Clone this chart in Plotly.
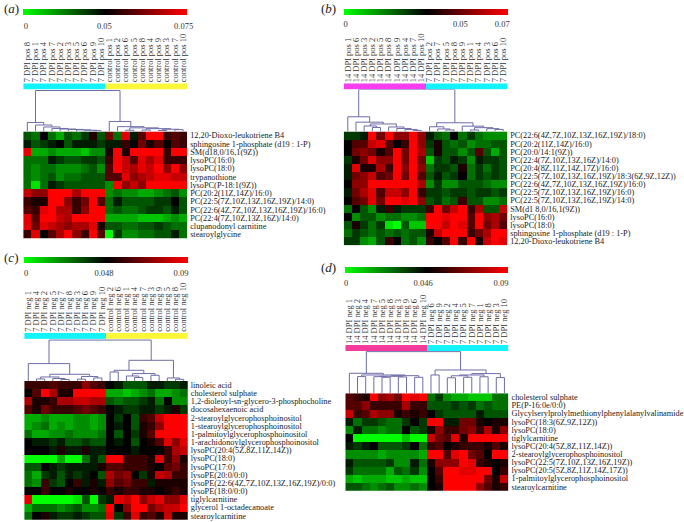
import plotly.graph_objects as go

W, H = 684, 522
SERIF = "Liberation Serif"

# ---- sample labels
SAMPLES_A = ["7 DPI pos " + s for s in "8 1 4 7 2 3 5 6 9 10".split()] + ["control pos " + s for s in "1 2 6 5 8 4 9 3 7 10".split()]
SAMPLES_B = ["14 DPI pos " + s for s in "1 6 3 2 5 8 9 4 7 10".split()] + ["7 DPI pos " + s for s in "2 7 5 8 9 1 4 3 6 10".split()]
SAMPLES_C = ["7 DPI neg " + s for s in "1 4 2 5 7 8 3 6 9 10".split()] + ["control neg " + s for s in "2 6 1 4 7 3 9 5 8 10".split()]
SAMPLES_D = ["14 DPI neg " + s for s in "1 2 4 7 5 8 3 9 6 10".split()] + ["7 DPI neg " + s for s in "6 9 2 4 5 7 1 8 3 10".split()]

# ---- metabolites
ROWS_A = ["12,20-Dioxo-leukotriene B4", "sphingosine 1-phosphate (d19 : 1-P)", "SM(d18,0/16,1(9Z))", "lysoPC(16:0)",
          "lysoPC(18:0)", "trypanothione", "lysoPC(P-18:1(9Z))", "PC(20:2(11Z,14Z)/16:0)",
          "PC(22:5(7Z,10Z,13Z,16Z,19Z)/14:0)", "PC(22:6(4Z,7Z,10Z,13Z,16Z,19Z)/16:0)", "PC(22:4(7Z,10Z,13Z,16Z)/14:0)",
          "clupanodonyl carnitine", "stearoylglycine"]
ROWS_B = ["PC(22:6(4Z,7Z,10Z,13Z,16Z,19Z)/18:0)", "PC(20:2(11Z,14Z)/16:0)", "PC(20:0/14:1(9Z))", "PC(22:4(7Z,10Z,13Z,16Z)/14:0)",
          "PC(20:4(8Z,11Z,14Z,17Z)/16:0)", "PC(22:5(7Z,10Z,13Z,16Z,19Z)/18:3(6Z,9Z,12Z))", "PC(22:6(4Z,7Z,10Z,13Z,16Z,19Z)/16:0)",
          "PC(22:5(7Z,10Z,13Z,16Z,19Z)/16:0)", "PC(22:5(7Z,10Z,13Z,16Z,19Z)/14:0)", "SM(d1 8,0/16,1(9Z))", "lysoPC(16:0)",
          "lysoPC(18:0)", "sphingosine 1-phosphate (d19 : 1-P)", "12,20-Dioxo-leukotriene B4"]
ROWS_C = ["linoleic acid", "cholesterol sulphate", "1,2-dioleoyl-sn-glycero-3-phosphocholine", "docosahexaenoic acid",
          "2-stearoylglycerophosphoinositol", "1-stearoylglycerophosphoinositol", "1-palmitoylglycerophosphoinositol",
          "1-arachidonoylglycerophosphoinositol", "lysoPC(20:4(5Z,8Z,11Z,14Z))", "lysoPC(18:0)", "lysoPC(17:0)",
          "lysoPE(20:0/0:0)", "lysoPE(22:6(4Z,7Z,10Z,13Z,16Z,19Z)/0:0)", "lysoPE(18:0/0:0)", "tiglylcarnitine",
          "glycerol 1-octadecanoate", "stearoylcarnitine"]
ROWS_D = ["cholesterol sulphate", "PE(P-16:0e/0:0)", "Glycylserylprolylmethionylphenylalanylvalinamide", "lysoPC(18:3(6Z,9Z,12Z))",
          "lysoPC(18:0)", "tiglylcarnitine", "lysoPC(20:4(5Z,8Z,11Z,14Z))", "2-stearoylglycerophosphoinositol",
          "lysoPC(22:5(7Z,10Z,13Z,16Z,19Z))", "lysoPC(20:5(5Z,8Z,11Z,14Z,17Z))", "1-palmitoylglycerophosphoinositol", "stearoylcarnitine"]

# ---- cell values, read by eye: -9 full green, 0 black, 9 full red
Z_A = [
    [-3,-4,0,-4,-6,-3,-4,-2,1,-3, 4,-4,8,-1,3,9,9,2,3,2],
    [-1,-3,-2,-1,0,-3,-1,-1,-1,-2, -1,-1,2,0,4,1,3,0,3,2],
    [8,-6,-6,-5,-6,-6,-6,-7,-5,-5, 1,9,1,9,9,9,9,2,9,9],
    [-4,-4,-4,-1,-2,-3,-3,-2,-2,-3, 2,9,7,3,8,6,8,2,2,2],
    [-4,-5,-4,-4,-5,-5,-5,-4,-3,-5, 3,9,7,6,8,7,9,5,9,5],
    [-4,-5,-4,-3,-5,-4,-4,-3,-3,-3, 3,3,8,5,6,7,8,8,7,7],
    [-4,-8,-4,-1,-2,-3,-3,-3,-3,-3, -5,9,5,7,5,9,9,9,9,9],
    [7,5,5,9,9,9,6,9,9,9, -5,-4,-5,-5,-6,-6,-5,-4,-3,-5],
    [2,1,1,9,9,5,2,4,9,3, -4,-1,-3,-3,-3,-3,-2,-2,0,-3],
    [3,2,8,9,6,6,2,5,9,9, -4,-3,-4,-4,-3,-2,-2,-3,-1,-3],
    [8,3,9,9,7,6,9,9,9,9, -6,-6,-6,-6,-7,-7,-7,-6,-5,-6],
    [8,4,8,7,6,5,6,6,8,1, -3,-3,-4,-4,-3,-3,-2,-3,-4,-4],
    [2,8,0,3,6,9,5,2,9,3, -9,-2,-5,-5,-4,-4,-3,-3,-1,-4],
]
Z_B = [
    [-2,-2,-1,9,4,9,5,5,9,5, -1,-3,-4,0,-4,-2,-4,-5,-5,-5],
    [0,3,3,7,8,3,0,2,9,5, -2,1,-3,-4,-3,-5,-4,-4,-3,-3],
    [0,4,5,4,1,3,9,4,9,6, -3,1,-3,-3,-5,-3,3,-3,-6,-3],
    [-2,1,4,8,5,5,9,4,9,4, -7,-2,-3,-1,-2,-5,-1,-2,-2,-3],
    [-1,8,1,1,6,2,9,5,9,5, -4,-2,-2,-3,1,-4,-2,-4,-2,-3],
    [-1,4,5,7,3,4,9,4,9,3, -3,-1,-3,-2,0,-4,-2,-3,-2,-3],
    [0,5,5,9,9,9,9,9,9,6, -5,-2,-5,-5,-3,-3,-3,-4,-5,-5],
    [-1,4,6,8,3,7,7,5,9,2, -2,-2,-3,-2,-2,-3,-2,-2,-3,-2],
    [0,3,4,8,4,9,9,8,9,5, -3,-2,-4,-3,2,-3,-3,-5,-5,-4],
    [-4,0,-3,-5,-1,2,-1,-2,-2,-2, 2,9,4,7,9,2,6,-3,-3,7],
    [0,-5,-3,-3,-5,-4,-4,-5,-5,-4, 9,9,8,9,9,3,9,5,6,4],
    [-3,1,-2,-4,-2,-8,-9,-3,-7,-7, 9,9,7,9,8,3,9,4,6,3],
    [-4,-2,-3,-4,-3,-4,-3,-4,-3,-3, 1,7,9,9,9,2,4,6,9,9],
    [-2,-2,-5,-6,-3,2,0,-4,-3,-5, 2,0,3,9,2,9,1,7,9,8],
]
Z_C = [
    [2,2,2,3,2,2,2,5,3,2, 0,-1,-3,-3,-3,-1,-1,-2,-2,-1],
    [0,3,9,6,1,1,9,9,9,9, -6,-6,-7,-6,-5,-4,-6,-6,-5,-4],
    [6,1,1,2,6,6,7,7,6,6, -3,-4,-3,-3,-2,-1,-4,0,-5,-5],
    [3,1,4,2,2,2,3,4,3,2, 0,-1,-2,-2,-1,-1,-2,-1,1,-2],
    [-6,-6,-5,-6,-6,-6,-5,-5,-6,-5, 0,-2,0,-3,2,3,7,9,9,9],
    [-6,-5,-4,-6,-5,-6,-5,-5,-6,-5, 0,-1,0,-3,1,2,5,9,9,9],
    [-4,-6,-6,-5,-5,-4,-5,-5,-5,-4, 0,-3,0,-2,1,3,9,9,9,9],
    [0,-1,-1,-2,-1,-3,-3,-2,-3,-3, 0,-1,0,-3,0,1,3,8,5,8],
    [0,0,0,-1,1,-1,-1,1,-1,-1, 0,0,0,-1,0,0,0,2,6,7],
    [-9,-9,-9,-9,-6,-9,-9,-4,-1,-3, 9,9,2,2,2,1,8,2,5,1],
    [-3,-3,0,-1,-2,-1,-1,-1,-1,1, 3,3,2,2,2,1,0,3,4,2],
    [-4,-6,-2,-1,-3,-1,-2,-1,0,-3, 6,4,5,0,-2,1,7,6,2,2],
    [-4,-5,2,-2,-3,0,2,-1,1,-1, 5,3,4,2,2,-1,1,1,1,1],
    [0,0,2,0,0,1,0,0,1,0, 2,1,2,2,1,1,0,1,2,1],
    [8,-9,-9,-9,-9,-9,-8,-3,-9,-2, -1,8,7,9,5,7,8,5,5,8],
    [-6,-4,-4,-4,-5,-4,-3,-5,-5,-4, 9,0,5,9,9,4,6,7,7,9],
    [-4,0,1,-1,-2,-2,-1,-2,-3,-3, 8,-2,2,8,2,3,1,7,1,1],
]
Z_D = [
    [3,2,1,9,5,6,4,9,8,9, -4,-2,-5,-6,-6,-7,-7,-7,-4,-4],
    [3,3,5,2,2,2,2,6,2,2, -3,-3,-3,-2,-3,-2,-4,-3,-4,-4],
    [7,2,3,6,5,5,1,2,1,2, 0,-2,-3,-3,-3,-3,-1,-3,-3,-3],
    [-1,-4,-2,-2,-3,-4,-4,-2,0,-2, 9,9,-1,-1,4,4,1,0,1,1],
    [-5,-1,-4,-4,-5,-4,-4,0,-3,-2, 1,5,2,2,4,5,2,6,1,5],
    [0,-9,-9,-9,-9,-9,-9,-7,-9,-9, 7,4,3,8,1,9,9,9,9,9],
    [-1,-2,-1,0,-3,-3,-3,-2,0,-4, 2,3,0,1,2,2,2,1,3,1],
    [-5,-5,-5,-5,-6,-5,-5,-5,-5,-6, 9,9,3,8,9,4,3,0,9,9],
    [-1,-3,-3,-3,-3,-2,-5,-5,-1,-4, 1,5,5,5,9,8,2,1,0,1],
    [-2,-4,-4,-4,-4,-6,-3,-4,-2,-5, 0,3,9,9,8,8,9,9,0,2],
    [-6,-7,-6,-6,-6,-7,-7,-6,-7,-7, 0,2,9,9,9,9,9,4,1,7],
    [-3,-3,-4,-5,-4,-3,-5,-5,-4,-5, 0,1,9,9,9,9,5,3,1,2],
]

# ---- dendrograms as merges: (left node, right node, height); nodes >= 20 are earlier merges
TREE_A = [(8,9,.8),(7,20,1.2),(6,21,1.6),(5,22,2),(4,23,2.4),(3,24,3),(2,25,4.5),(1,26,6.5),(0,27,9),
          (12,13,1.2),(14,15,1.4),(16,17,1),(18,19,1.8),(31,32,2.2),(30,33,2.8),(29,34,3.6),(11,35,4.8),(10,36,10),(28,37,41)]
TREE_B = [(8,9,1),(7,20,2),(6,21,3),(5,22,4.5),(3,4,4),(2,24,5.5),(25,23,7.5),(1,26,9.3),(0,27,14.7),
          (12,13,1.5),(11,29,2.5),(10,30,4.7),(15,16,1.5),(18,19,2),(17,33,2.8),(32,34,3.8),(14,35,5.3),(31,36,8.7),(28,37,42)]
TREE_C = [(1,2,2),(4,5,1.5),(3,21,2.5),(20,22,4),(6,7,1.8),(8,9,3),(24,25,4.5),(23,26,6.7),(0,27,17.4),
          (10,11,9),(13,14,3.5),(12,30,5),(15,16,5.7),(31,32,7.4),(29,33,10.7),(18,19,1.7),(17,35,3),(34,36,20.7),(28,37,41)]
TREE_D = [(1,2,16.7),(4,5,16),(3,21,16.6),(6,7,16.3),(22,23,17),(8,9,16),(24,25,17.6),(20,26,18.3),(0,27,20),
          (10,11,18.3),(12,13,15.5),(14,15,16),(30,31,17.5),(16,17,16.5),(32,33,18.3),(18,19,15.7),(34,35,19.7),(29,36,23.3),(28,37,41.7)]

# ---- colour key ticks, on the -9..9 cell scale
KEY_TICKS_A, KEY_TEXT_A = [-8.7, -0.1, 8.6], ["0", "0.05", "0.075"]
KEY_TICKS_B, KEY_TEXT_B = [-8.8, 3.8, 8.4], ["0", "0.05", "0.07"]
KEY_TICKS_C, KEY_TEXT_C = [-8.8, -0.25, 8.2], ["0", "0.048", "0.09"]
KEY_TICKS_D, KEY_TEXT_D = [-8.9, -0.4, 8.2], ["0", "0.046", "0.09"]

CYAN, YELLOW, MAGENTA, PINK = "#12f3fb", "#fdf73a", "#f53cf0", "#f53a9e"
CMAP = [[0, "#00ff00"], [0.5, "#000000"], [1, "#ff0000"]]

fig = go.Figure()
layout = {}


def fx(px):
    return px / W


def fy(px):
    return 1 - px / H


def tree_segments(tree):
    pos = {i: float(i) for i in range(20)}
    hgt = {i: 0.0 for i in range(20)}
    xs, ys = [], []
    for k, (a, b, h) in enumerate(tree):
        xs += [pos[a], pos[a], pos[b], pos[b], None]
        ys += [hgt[a], h, h, hgt[b], None]
        pos[20 + k] = (pos[a] + pos[b]) / 2
        hgt[20 + k] = h
    return xs, ys


def add_panel(n, samples, rows, z, tree, cols, ticks, text, box, key, strip, tag, tag_xy):
    x0, x1, y0, y1 = box
    ax = [str(n), str(n + 1), str(n + 2)]
    idx = list(range(20))

    # main heatmap with the row names on the right, colour key hanging off it
    fig.add_trace(go.Heatmap(
        z=z, x=idx, y=rows, colorscale=CMAP, zmin=-9, zmax=9, xaxis="x" + ax[0], yaxis="y" + ax[0], hoverinfo="skip",
        colorbar=dict(orientation="h", x=fx(x0), xanchor="left", y=fy(key[0]), yanchor="top", len=(x1 - x0) / W,
                      thickness=key[1] - key[0], xpad=0, ypad=0, outlinewidth=0, tickmode="array", tickvals=ticks,
                      ticktext=text, ticks="outside", ticklen=key[2], tickcolor="rgba(0,0,0,0)",
                      tickfont=dict(family=SERIF, size=8.5, color="#333"))))
    layout["xaxis" + ax[0]] = dict(domain=[fx(x0), fx(x1)], range=[-.5, 19.5], visible=False, anchor="y" + ax[0])
    layout["yaxis" + ax[0]] = dict(domain=[fy(y1), fy(y0)], side="right", autorange="reversed", showgrid=False,
                                   ticks="", anchor="x" + ax[0], tickmode="array", tickvals=rows, ticktext=rows,
                                   ticklabelstandoff=2, tickfont=dict(family=SERIF, size=8.3, color="#222"), zeroline=False)

    # group strip, sample names sit above it
    fig.add_trace(go.Heatmap(
        z=[[0] * 10 + [1] * 10], x=idx, colorscale=[[0, cols[0]], [0.5, cols[0]], [0.5, cols[1]], [1, cols[1]]], zmin=0, zmax=1,
        showscale=False, xaxis="x" + ax[1], yaxis="y" + ax[1], hoverinfo="skip"))
    layout["xaxis" + ax[1]] = dict(domain=[fx(x0), fx(x1)], range=[-.5, 19.5], side="top", tickmode="array", tickvals=idx,
                                   ticktext=samples, tickangle=-90, ticks="", showgrid=False, zeroline=False,
                                   tickfont=dict(family=SERIF, size=8.5, color="#333"), anchor="y" + ax[1])
    layout["yaxis" + ax[1]] = dict(domain=[fy(strip[1]), fy(strip[0])], visible=False, anchor="x" + ax[1])

    # dendrogram
    xs, ys = tree_segments(tree)
    fig.add_trace(go.Scatter(x=xs, y=ys, mode="lines", line=dict(color="#6d6da8", width=1), showlegend=False,
                             hoverinfo="skip", xaxis="x" + ax[2], yaxis="y" + ax[2]))
    layout["xaxis" + ax[2]] = dict(domain=[fx(x0), fx(x1)], range=[-.5, 19.5], visible=False, anchor="y" + ax[2])
    layout["yaxis" + ax[2]] = dict(domain=[fy(y0), fy(strip[1])], range=[0, y0 - strip[1]], visible=False, anchor="x" + ax[2])

    return dict(text="(<i>%s</i>)" % tag, x=fx(tag_xy[0]), y=fy(tag_xy[1]), xref="paper", yref="paper", xanchor="left",
                yanchor="middle", showarrow=False, font=dict(family=SERIF, size=13, color="#222"))


tags = [
    add_panel(1, SAMPLES_A, ROWS_A, Z_A, TREE_A, (CYAN, YELLOW), KEY_TICKS_A, KEY_TEXT_A, (22.3, 186.7, 131.7, 239), (8.7, 14.7, 4), (83.5, 90), "a", (1, 9)),
    add_panel(4, SAMPLES_B, ROWS_B, Z_B, TREE_B, (MAGENTA, CYAN), KEY_TICKS_B, KEY_TEXT_B, (343.7, 507.7, 131.7, 245.7), (8.7, 14.7, 2), (83.5, 89.7), "b", (319, 9)),
    add_panel(7, SAMPLES_C, ROWS_C, Z_C, TREE_C, (CYAN, YELLOW), KEY_TICKS_C, KEY_TEXT_C, (23.3, 187.3, 381.7, 520.7), (257.3, 263.5, 3), (333.5, 339.7), "c", (1, 258)),
    add_panel(10, SAMPLES_D, ROWS_D, Z_D, TREE_D, (PINK, CYAN), KEY_TICKS_D, KEY_TEXT_D, (345.3, 509, 394, 491.7), (267.3, 273.7, 3), (345.7, 351.7), "d", (319, 268)),
]

fig.update_layout(width=W, height=H, margin=dict(l=0, r=0, t=0, b=0), paper_bgcolor="white", plot_bgcolor="white",
                  showlegend=False, annotations=tags, **layout)
# default page has an 8px body margin, drop it so the figure sits at 0,0
fig.write_html("out.html", post_script="document.body.style.margin='0';", config={"displayModeBar": False})
